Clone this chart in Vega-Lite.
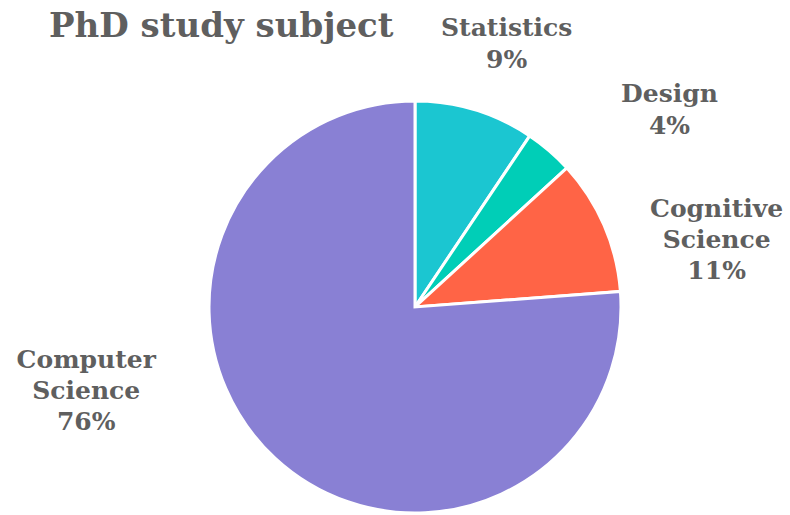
{
  "$schema": "https://vega.github.io/schema/vega-lite/v6.json",
  "width": 750,
  "height": 412,
  "autosize": {"type": "none"},
  "padding": {"left": 40, "top": 101, "right": 0, "bottom": 2},
  "background": "white",
  "title": {
    "text": "PhD study subject",
    "orient": "none",
    "anchor": "start",
    "frame": "group",
    "font": "DejaVu Serif",
    "fontSize": 34,
    "fontWeight": "bold",
    "color": "#5f5f5f",
    "baseline": "alphabetic",
    "dx": 9,
    "dy": -64
  },
  "data": {
    "values": [
      {"category": "Statistics", "value": 9.4, "order": 1, "label": "Statistics\n9%"},
      {"category": "Design", "value": 3.8, "order": 2, "label": "Design\n4%"},
      {"category": "Cognitive Science", "value": 10.6, "order": 3, "label": "Cognitive\nScience\n11%"},
      {"category": "Computer Science", "value": 76.2, "order": 4, "label": "Computer\nScience\n76%"}
    ]
  },
  "encoding": {
    "theta": {"field": "value", "type": "quantitative", "stack": true},
    "order": {"field": "order", "type": "quantitative"}
  },
  "layer": [
    {
      "mark": {"type": "arc", "radius": 206, "stroke": "white", "strokeWidth": 3},
      "encoding": {
        "color": {
          "field": "category",
          "type": "nominal",
          "scale": {
            "domain": ["Statistics", "Design", "Cognitive Science", "Computer Science"],
            "range": ["#1bc6d1", "#00ceb7", "#ff6446", "#8980d4"]
          },
          "legend": null
        }
      }
    },
    {
      "mark": {"type": "text", "radius": 260, "font": "DejaVu Serif", "fontWeight": "bold", "fontSize": 25, "color": "#5f5f5f", "align": "center", "baseline": "alphabetic", "lineBreak": "\n", "lineHeight": 32, "dx": 16, "dy": -22},
      "encoding": {
        "text": {"condition": {"test": "datum.category === 'Statistics'", "field": "label"}, "value": ""}
      }
    },
    {
      "mark": {"type": "text", "radius": 260, "font": "DejaVu Serif", "fontWeight": "bold", "fontSize": 25, "color": "#5f5f5f", "align": "center", "baseline": "alphabetic", "lineBreak": "\n", "lineHeight": 32, "dx": 85, "dy": -8},
      "encoding": {
        "text": {"condition": {"test": "datum.category === 'Design'", "field": "label"}, "value": ""}
      }
    },
    {
      "mark": {"type": "text", "radius": 260, "font": "DejaVu Serif", "fontWeight": "bold", "fontSize": 25, "color": "#5f5f5f", "align": "center", "baseline": "alphabetic", "lineBreak": "\n", "lineHeight": 31, "dx": 63, "dy": 13},
      "encoding": {
        "text": {"condition": {"test": "datum.category === 'Cognitive Science'", "field": "label"}, "value": ""}
      }
    },
    {
      "mark": {"type": "text", "radius": 260, "font": "DejaVu Serif", "fontWeight": "bold", "fontSize": 25, "color": "#5f5f5f", "align": "center", "baseline": "alphabetic", "lineBreak": "\n", "lineHeight": 31, "dx": -152, "dy": -130},
      "encoding": {
        "text": {"condition": {"test": "datum.category === 'Computer Science'", "field": "label"}, "value": ""}
      }
    }
  ],
  "view": {"stroke": null}
}
